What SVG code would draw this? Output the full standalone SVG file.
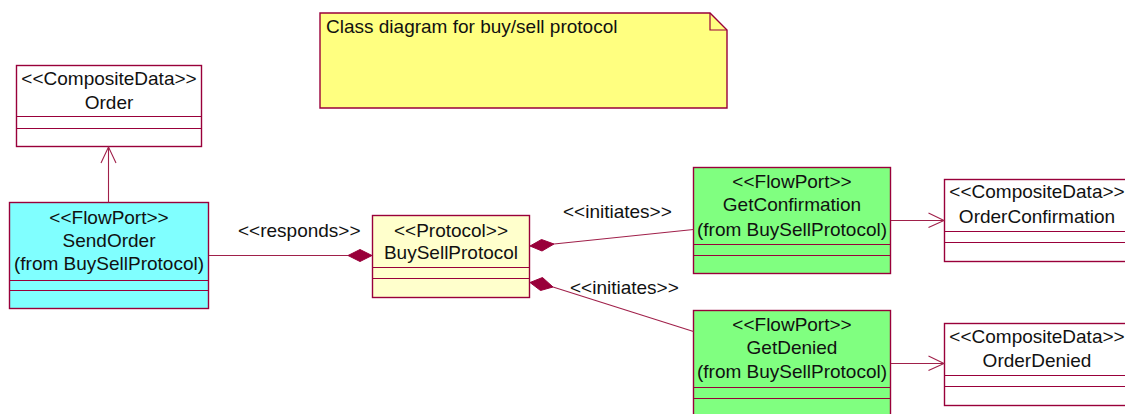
<svg xmlns="http://www.w3.org/2000/svg" width="1125" height="414" viewBox="0 0 1125 414">
  <defs>
    <style>
      .box { stroke: #99003a; stroke-width: 1.4; }
      .sep { stroke: #99003a; stroke-width: 1.2; fill: none; }
      .cyan { fill: #80ffff; }
      .green { fill: #80ff80; }
      .proto { fill: #ffffcc; }
      .plain { fill: #ffffff; }
      .note { fill: #ffff80; stroke: #99003a; stroke-width: 1.4; }
      text { font-family: "Liberation Sans", Arial, sans-serif; font-size: 19px; fill: #111111; }
      .c { text-anchor: middle; }
      .link { stroke: #a0204a; stroke-width: 1.1; fill: none; }
      .diamond { fill: #99003a; stroke: #99003a; stroke-width: 1; }
    </style>
  </defs>

  <!-- note -->
  <g id="note">
    <path class="note" d="M320,13 H710 L727,30 V108 H320 Z"/>
    <path class="sep" d="M710,13 V30 H727"/>
    <text x="326" y="33">Class diagram for buy/sell protocol</text>
  </g>

  <!-- Order -->
  <g id="order">
    <rect class="box plain" x="16.5" y="65.5" width="185" height="81"/>
    <path class="sep" d="M16.5,116.5 H201.5 M16.5,128.5 H201.5"/>
    <text class="c" x="109" y="85">&lt;&lt;CompositeData&gt;&gt;</text>
    <text class="c" x="109" y="109">Order</text>
  </g>

  <!-- SendOrder -->
  <g id="sendorder">
    <rect class="box cyan" x="9.5" y="202.5" width="199" height="106"/>
    <path class="sep" d="M9.5,280.5 H208.5 M9.5,290.5 H208.5"/>
    <text class="c" x="109" y="224">&lt;&lt;FlowPort&gt;&gt;</text>
    <text class="c" x="109" y="247">SendOrder</text>
    <text class="c" x="109" y="270">(from BuySellProtocol)</text>
  </g>

  <!-- BuySellProtocol -->
  <g id="buysellprotocol">
    <rect class="box proto" x="372.5" y="215.5" width="157" height="82"/>
    <path class="sep" d="M372.5,267.5 H529.5 M372.5,278.5 H529.5"/>
    <text class="c" x="451" y="237">&lt;&lt;Protocol&gt;&gt;</text>
    <text class="c" x="451" y="259">BuySellProtocol</text>
  </g>

  <!-- GetConfirmation -->
  <g id="getconfirmation">
    <rect class="box green" x="693.5" y="167.5" width="197" height="106"/>
    <path class="sep" d="M693.5,244.5 H890.5 M693.5,255.5 H890.5"/>
    <text class="c" x="792" y="188">&lt;&lt;FlowPort&gt;&gt;</text>
    <text class="c" x="792" y="211">GetConfirmation</text>
    <text class="c" x="792" y="236">(from BuySellProtocol)</text>
  </g>

  <!-- GetDenied -->
  <g id="getdenied">
    <rect class="box green" x="693.5" y="310.5" width="197" height="108"/>
    <path class="sep" d="M693.5,387.5 H890.5 M693.5,398.5 H890.5"/>
    <text class="c" x="792" y="331">&lt;&lt;FlowPort&gt;&gt;</text>
    <text class="c" x="792" y="354">GetDenied</text>
    <text class="c" x="792" y="378">(from BuySellProtocol)</text>
  </g>

  <!-- OrderConfirmation -->
  <g id="orderconfirmation">
    <rect class="box plain" x="944.5" y="179.5" width="186" height="82"/>
    <path class="sep" d="M944.5,231.5 H1130 M944.5,242.5 H1130"/>
    <text class="c" x="1037" y="198">&lt;&lt;CompositeData&gt;&gt;</text>
    <text class="c" x="1037" y="223">OrderConfirmation</text>
  </g>

  <!-- OrderDenied -->
  <g id="orderdenied">
    <rect class="box plain" x="944.5" y="323.5" width="186" height="82"/>
    <path class="sep" d="M944.5,375.5 H1130 M944.5,386.5 H1130"/>
    <text class="c" x="1037" y="343">&lt;&lt;CompositeData&gt;&gt;</text>
    <text class="c" x="1037" y="367">OrderDenied</text>
  </g>

  <!-- connectors -->
  <g id="connectors">
    <!-- SendOrder -> Order -->
    <path class="link" d="M108.5,202.5 V147"/>
    <path class="link" d="M101,163 L108.5,147 L116,163"/>

    <!-- responds -->
    <path class="link" d="M209,255.5 H348"/>
    <path class="diamond" d="M372,255.5 L360,249.5 L348,255.5 L360,261.5 Z"/>
    <text x="238" y="237">&lt;&lt;responds&gt;&gt;</text>

    <!-- initiates (confirmation) -->
    <path class="link" d="M554,244 L693.5,229.5"/>
    <path class="diamond" d="M530,246 L541.5,239.5 L554,244 L542,251 Z"/>
    <text x="563" y="218">&lt;&lt;initiates&gt;&gt;</text>

    <!-- initiates (denied) -->
    <path class="link" d="M553,287 L693.5,331.5"/>
    <path class="diamond" d="M530,282.5 L542.5,277.5 L553,287 L540.5,290.5 Z"/>
    <text x="570" y="294">&lt;&lt;initiates&gt;&gt;</text>

    <!-- GetConfirmation -> OrderConfirmation -->
    <path class="link" d="M891,220.5 H944"/>
    <path class="link" d="M928.5,213 L944,220.5 L928.5,227.5"/>

    <!-- GetDenied -> OrderDenied -->
    <path class="link" d="M891,363.5 H944"/>
    <path class="link" d="M928.5,356 L944,363.5 L928.5,370.5"/>
  </g>
</svg>
